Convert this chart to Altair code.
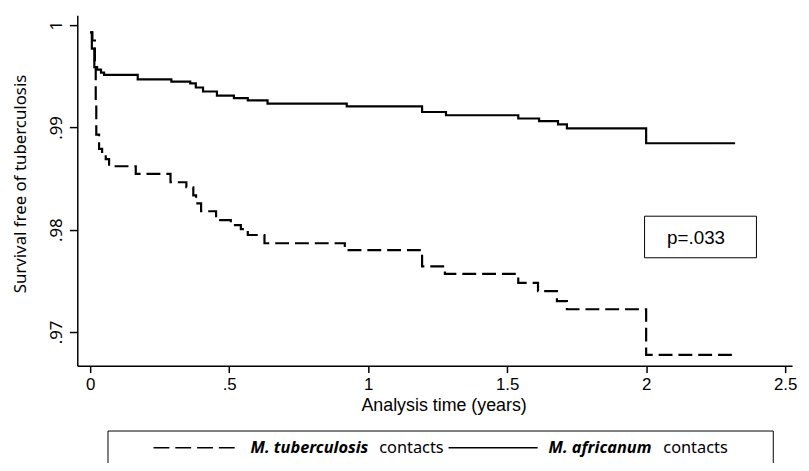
import altair as alt
import pandas as pd

# ---- data ----
groups = ["M. tuberculosis contacts", "M. africanum contacts"]
species = ["M. tuberculosis", "M. africanum"]
suffix = "contacts"

tb_time = [0, 0.008, 0.017, 0.020, 0.022, 0.032, 0.043, 0.056, 0.068, 0.164, 0.289, 0.346,
           0.371, 0.381, 0.399, 0.453, 0.506, 0.542, 0.567, 0.627, 0.916, 1.194, 1.276,
           1.540, 1.611, 1.679, 1.715, 2.000, 2.320]
tb_surv = [0.9993, 0.9985, 0.9960, 0.9925, 0.9893, 0.9879, 0.9874, 0.9869, 0.9862, 0.98545,
           0.98464, 0.98415, 0.98335, 0.98257, 0.98180, 0.98093, 0.98044, 0.98006, 0.97948,
           0.97867, 0.97800, 0.97641, 0.97567, 0.97480, 0.97399, 0.97302, 0.97222, 0.96776,
           0.96776]

af_time = [0, 0.006, 0.015, 0.025, 0.039, 0.050, 0.171, 0.292, 0.360, 0.380, 0.406, 0.456,
           0.517, 0.567, 0.638, 0.923, 1.194, 1.280, 1.540, 1.615, 1.683, 1.715, 2.000, 2.320]
af_surv = [0.9993, 0.9977, 0.9959, 0.99565, 0.99535, 0.99513, 0.99470, 0.99448, 0.9943,
           0.9939, 0.99351, 0.99310, 0.99287, 0.99264, 0.99232, 0.99206, 0.99151, 0.99119,
           0.99087, 0.99061, 0.99029, 0.98990, 0.98845, 0.98845]

x_ticks = [0, 0.5, 1, 1.5, 2, 2.5]
x_tick_labels = ["0", ".5", "1", "1.5", "2", "2.5"]
y_ticks = [0.97, 0.98, 0.99, 1.0]
y_tick_labels = [".97", ".98", ".99", "1"]
p_text = "p=.033"

# ---- build table ----
df = pd.concat([
    pd.DataFrame({"t": tb_time, "s": tb_surv, "g": groups[0]}),
    pd.DataFrame({"t": af_time, "s": af_surv, "g": groups[1]}),
])


def label_expr(vals, labs):
    expr = "''"
    for v, l in reversed(list(zip(vals, labs))):
        expr = f"abs(datum.value - {v}) < 1e-6 ? '{l}' : ({expr})"
    return expr


one = pd.DataFrame({"a": [0]})

curves = alt.Chart(df).mark_line(interpolate="step-after", strokeWidth=2.2, color="black").encode(
    x=alt.X("t:Q", scale=alt.Scale(domain=[-0.0463, 2.525], nice=False, zero=False),
            axis=alt.Axis(values=x_ticks, labelExpr=label_expr(x_ticks, x_tick_labels),
                          title="Analysis time (years)", grid=False, tickSize=7,
                          labelFont="Liberation Sans", labelFontSize=17, labelPadding=4,
                          titleFont="Liberation Sans", titleFontSize=18, titleFontWeight="normal",
                          titleX=370, titleY=45, titleBaseline="alphabetic",
                          domainColor="black", tickColor="black", labelColor="black",
                          titleColor="black", domainWidth=1.5, tickWidth=1.5)),
    y=alt.Y("s:Q", scale=alt.Scale(domain=[0.96670, 1.00097], nice=False, zero=False),
            axis=alt.Axis(values=y_ticks, labelExpr=label_expr(y_ticks, y_tick_labels),
                          title="Survival free of tuberculosis", grid=False, tickSize=8,
                          labelAngle=270, labelFont="Noto Sans", labelFontSize=17, labelPadding=4,
                          titleFont="Noto Sans", titleFontSize=17, titleFontWeight="normal",
                          titleAngle=270, titleX=-57, titleY=170, titleBaseline="middle",
                          titleAlign="center",
                          domainColor="black", tickColor="black", labelColor="black",
                          titleColor="black", domainWidth=1.5, tickWidth=1.5)),
    strokeDash=alt.StrokeDash("g:N", scale=alt.Scale(domain=groups, range=[[14, 6], [1, 0]]),
                              legend=None),
    detail="g:N",
)

# p-value annotation box
p_box = alt.Chart(one).mark_rect(fill="white", fillOpacity=0, stroke="black", strokeWidth=1).encode(
    x=alt.value(573), x2=alt.value(686), y=alt.value(203), y2=alt.value(245))
p_lab = alt.Chart(one).mark_text(font="Liberation Sans", fontSize=19, color="black",
                                 align="center", baseline="middle").encode(
    x=alt.value(625), y=alt.value(225), text=alt.value(p_text))

# legend (drawn below the plot, framed box)
leg_box = alt.Chart(one).mark_rect(fill="white", fillOpacity=0, stroke="black", strokeWidth=1).encode(
    x=alt.value(31), x2=alt.value(703), y=alt.value(420), y2=alt.value(490))
leg_dash = alt.Chart(one).mark_rule(strokeDash=[16, 6], strokeWidth=1.5, color="black").encode(
    x=alt.value(77), x2=alt.value(165), y=alt.value(437))
leg_solid = alt.Chart(one).mark_rule(strokeWidth=1.5, color="black").encode(
    x=alt.value(375), x2=alt.value(465), y=alt.value(437))


def txt(s, xpos, italic, align):
    kw = dict(font="Noto Sans", fontSize=16.5, color="black", baseline="middle", align=align)
    if italic:
        kw.update(fontStyle="italic", fontWeight="bold")
    return alt.Chart(one).mark_text(**kw).encode(
        x=alt.value(xpos), y=alt.value(437), text=alt.value(s))


leg_t1 = txt(species[0], 175, True, "left")
leg_t2 = txt(suffix, 370, False, "right")
leg_t3 = txt(species[1], 476, True, "left")
leg_t4 = txt(suffix, 657, False, "right")

chart = alt.layer(curves, p_box, p_lab, leg_box, leg_dash, leg_solid,
                  leg_t1, leg_t2, leg_t3, leg_t4).properties(
    width=722, height=354, autosize="none",
    padding={"left": 70, "top": 5, "right": 9, "bottom": 96},
    background="white",
).configure_view(stroke=None)

chart.save("out.html", embed_options={"renderer": "svg", "actions": False})
